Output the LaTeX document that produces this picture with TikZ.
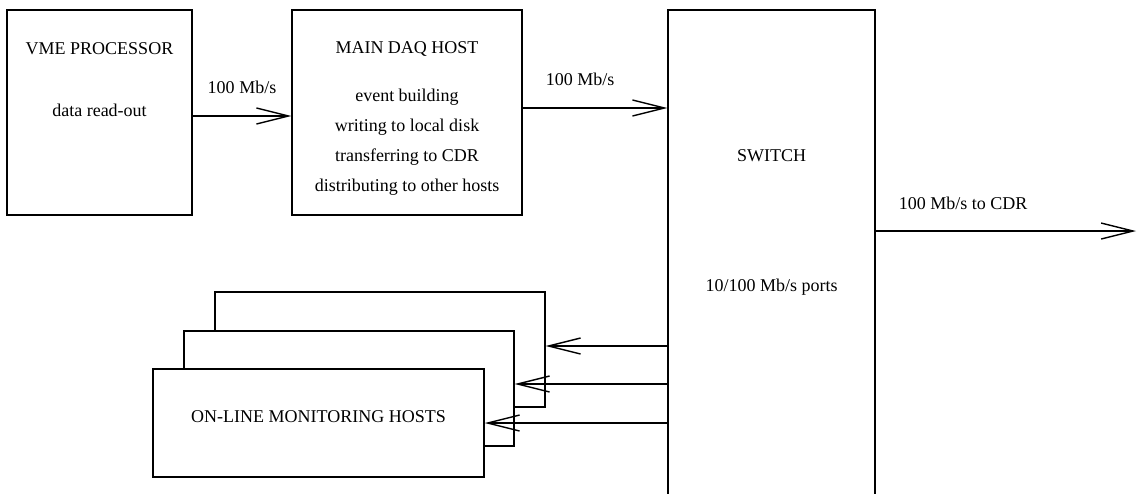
\documentclass[tikz,border=0pt]{standalone}
\usepackage{fontspec}
\setmainfont{Liberation Serif}
\usetikzlibrary{calc,positioning,arrows.meta}

\begin{document}
\begin{tikzpicture}[x=0.5pt, y=-0.5pt, line width=0.7pt, font=\fontsize{9}{15}\selectfont,
	box/.style = {draw, rectangle, inner sep=0pt, fill=white},
	lbl/.style = {inner sep=0pt, align=center},
	arr/.style = {-{Straight Barb[length=16pt,width=8pt]}}]
		\clip (0,0) rectangle (1138,493);
		\node[box, minimum width=92.5pt, minimum height=102.5pt] (vme) at (99.5,112.5) {};
		\node[box, minimum width=115pt, minimum height=102.5pt] (daq) at (407,112.5) {};
		\node[box, minimum width=103.5pt, minimum height=300pt] (sw) at (771.5,310) {};
		\node[box, minimum width=165pt, minimum height=57.5pt] (back) at (380,349.5) {};
		\node[box, minimum width=165pt, minimum height=57.5pt] (mid) at (349,388.5) {};
		\node[box, minimum width=165.5pt, minimum height=54pt] (front) at (318.5,423) {};
		\node[lbl] (vmetitle) at (vme.north |- 0,49) {VME PROCESSOR};
		\node[lbl] (vmetask) at (vme.north |- 0,110) {data read-out};
		\node[lbl] (daqtitle) at (daq.north |- 0,49) {MAIN DAQ HOST};
		\node[lbl] (daqtasks) at (daq.north |- 0,142) {event building\\writing to local disk\\transferring to CDR\\distributing to other hosts};
		\node[lbl] (swtitle) at (sw.north |- 0,156) {SWITCH};
		\node[lbl] (swports) at (sw.north |- 0,287) {10/100 Mb/s ports};
		\node[lbl] (montitle) at (front.center |- 0,417) {ON-LINE MONITORING HOSTS};
		\coordinate (cdr) at (1136,231);
		\draw[arr] (vme.east |- 0,116) -- (daq.west |- 0,116);
		\draw[arr] (daq.east |- 0,108) -- (sw.west |- 0,108);
		\draw[arr] (sw.east |- cdr) -- (cdr);
		\draw[arr] (sw.west |- 0,346) -- (back.east |- 0,346);
		\draw[arr] (sw.west |- 0,384) -- (mid.east |- 0,384);
		\draw[arr] (sw.west |- 0,423) -- (front.east |- 0,423);
		\node[lbl] (rate1) at (242,87) {100 Mb/s};
		\node[lbl] (rate2) at (580,79) {100 Mb/s};
		\node[lbl] (rate3) at (963,203) {100 Mb/s to CDR};
	\end{tikzpicture}
\end{document}
